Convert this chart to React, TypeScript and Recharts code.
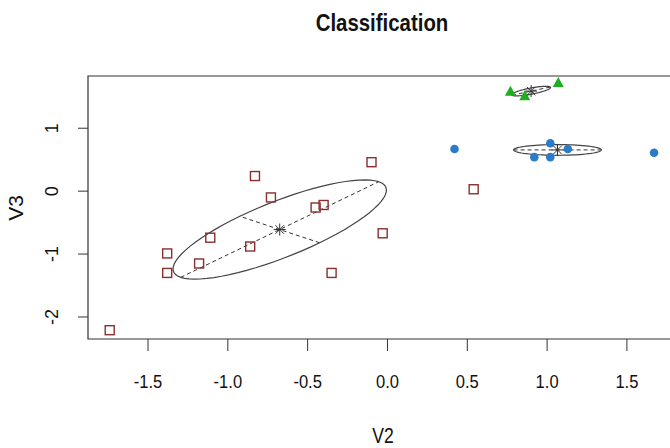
import React from 'react';
import {
  ScatterChart, Scatter, XAxis, YAxis, ReferenceArea, ReferenceLine,
} from 'recharts';

// group 1: brown squares
const brownX = [-0.10, -0.83, -0.73, -0.45, -0.40, -1.11, -0.86, -1.38, -1.38, -1.18, -0.35, -1.74, -0.03, 0.54];
const brownY = [0.46, 0.24, -0.10, -0.26, -0.22, -0.74, -0.88, -0.99, -1.30, -1.15, -1.30, -2.21, -0.67, 0.03];
// group 2: blue circles
const blueX = [0.42, 1.02, 1.13, 0.92, 1.02, 1.67];
const blueY = [0.67, 0.76, 0.67, 0.54, 0.54, 0.61];
// group 3: green triangles
const greenX = [0.77, 0.86, 1.07];
const greenY = [1.58, 1.51, 1.72];

// ellipses: center, half major axis vector, half minor axis vector
const ellCx = [-0.675, 1.065, 0.90];
const ellCy = [-0.61, 0.655, 1.59];
const ellUx = [0.62, 0.275, 0.12];
const ellUy = [0.76, 0.0, 0.065];
const ellVx = [-0.25, 0.0, -0.02];
const ellVy = [0.21, 0.085, 0.04];

const xTicks = [-1.5, -1.0, -0.5, 0.0, 0.5, 1.0, 1.5];
const yTicks = [-2, -1, 0, 1];
const xDomain: [number, number] = [-1.876, 1.82];
const yDomain: [number, number] = [-2.35, 1.83];

const BROWN = '#8a2f2f';
const BLUE = '#2a7bc9';
const GREEN = '#1fae1f';
const INK = '#333';
const FONT = '"Liberation Sans", Arial, sans-serif';

const zip = (xs: number[], ys: number[]) => xs.map((x, i) => ({ x, y: ys[i] }));

function ellipsePoints(i: number) {
  const pts: { x: number; y: number }[] = [];
  const n = 72;
  for (let k = 0; k <= n; k++) {
    const t = (k / n) * Math.PI * 2;
    pts.push({
      x: ellCx[i] + ellUx[i] * Math.cos(t) + ellVx[i] * Math.sin(t),
      y: ellCy[i] + ellUy[i] * Math.cos(t) + ellVy[i] * Math.sin(t),
    });
  }
  return pts;
}

const Square = (p: any) => (
  <rect x={p.cx - 4.5} y={p.cy - 4.5} width={9} height={9} fill="none" stroke={BROWN} strokeWidth={1.4} />
);
const Dot = (p: any) => <circle cx={p.cx} cy={p.cy} r={4.3} fill={BLUE} />;
const Tri = (p: any) => (
  <polygon points={`${p.cx},${p.cy - 6} ${p.cx - 5.5},${p.cy + 4} ${p.cx + 5.5},${p.cy + 4}`} fill={GREEN} />
);
const Star = (p: any) => {
  const r = 6;
  const d = r * 0.707;
  return (
    <g stroke={INK} strokeWidth={1}>
      <line x1={p.cx - r} y1={p.cy} x2={p.cx + r} y2={p.cy} />
      <line x1={p.cx} y1={p.cy - r} x2={p.cx} y2={p.cy + r} />
      <line x1={p.cx - d} y1={p.cy - d} x2={p.cx + d} y2={p.cy + d} />
      <line x1={p.cx - d} y1={p.cy + d} x2={p.cx + d} y2={p.cy - d} />
    </g>
  );
};
const NoShape = () => <g />;

const XTick = (p: any) => (
  <text transform={`translate(${p.x}, ${p.y + 29}) scale(0.92, 1)`} textAnchor="middle" dominantBaseline="central"
    fontFamily={FONT} fontSize={18} fill="#111">
    {Number(p.payload.value).toFixed(1)}
  </text>
);
const YTick = (p: any) => (
  <text x={52} y={p.y} textAnchor="middle" dominantBaseline="central"
    transform={`rotate(-90, 52, ${p.y})`} fontFamily={FONT} fontSize={18} fill="#111">
    {p.payload.value}
  </text>
);

export default function App() {
  const centers = zip(ellCx, ellCy);
  return (
    <div style={{ position: 'absolute', left: 0, top: 0, width: 670, height: 448, overflow: 'hidden', background: '#fff' }}>
      <div style={{ position: 'absolute', left: 382, top: 9, whiteSpace: 'nowrap', transform: 'translateX(-50%) scaleX(0.85)', fontFamily: FONT, fontWeight: 'bold', fontSize: 24, color: '#111' }}>
        Classification
      </div>
      <div style={{ position: 'absolute', left: 383, top: 423, whiteSpace: 'nowrap', transform: 'translateX(-50%) scaleX(0.8)', fontFamily: FONT, fontSize: 22, color: '#111' }}>
        V2
      </div>
      <div style={{ position: 'absolute', left: 16, top: 208, whiteSpace: 'nowrap', transform: 'translate(-50%, -50%) rotate(-90deg)', fontFamily: FONT, fontSize: 21, color: '#111' }}>
        V3
      </div>
      <ScatterChart width={680} height={448} margin={{ top: 76, right: 2, bottom: 0, left: 0 }}>
        <XAxis type="number" dataKey="x" domain={xDomain} ticks={xTicks} interval={0}
          allowDataOverflow axisLine={false} tickSize={12} tickLine={{ stroke: INK }}
          height={109} tick={<XTick />} />
        <YAxis type="number" dataKey="y" domain={yDomain} ticks={yTicks} interval={0}
          allowDataOverflow axisLine={false} tickSize={10} tickLine={{ stroke: INK }}
          width={88} tick={<YTick />} />
        <ReferenceArea x1={xDomain[0]} x2={xDomain[1]} y1={yDomain[0]} y2={yDomain[1]}
          fill="none" stroke={INK} strokeWidth={1.2} fillOpacity={0} ifOverflow="visible" />
        {[0, 1, 2].map((i) => (
          <ReferenceLine key={`u${i}`} stroke={INK} strokeWidth={1} strokeDasharray="4 3"
            segment={[
              { x: ellCx[i] - ellUx[i], y: ellCy[i] - ellUy[i] },
              { x: ellCx[i] + ellUx[i], y: ellCy[i] + ellUy[i] },
            ]} />
        ))}
        {[0, 1, 2].map((i) => (
          <ReferenceLine key={`v${i}`} stroke={INK} strokeWidth={1} strokeDasharray="4 3"
            segment={[
              { x: ellCx[i] - ellVx[i], y: ellCy[i] - ellVy[i] },
              { x: ellCx[i] + ellVx[i], y: ellCy[i] + ellVy[i] },
            ]} />
        ))}
        {[0, 1, 2].map((i) => (
          <Scatter key={`e${i}`} data={ellipsePoints(i)} shape={NoShape}
            line={{ stroke: '#444', strokeWidth: 1.2 }} isAnimationActive={false} />
        ))}
        <Scatter data={zip(brownX, brownY)} shape={Square} isAnimationActive={false} />
        <Scatter data={zip(blueX, blueY)} shape={Dot} isAnimationActive={false} />
        <Scatter data={zip(greenX, greenY)} shape={Tri} isAnimationActive={false} />
        <Scatter data={centers} shape={Star} isAnimationActive={false} />
      </ScatterChart>
    </div>
  );
}
